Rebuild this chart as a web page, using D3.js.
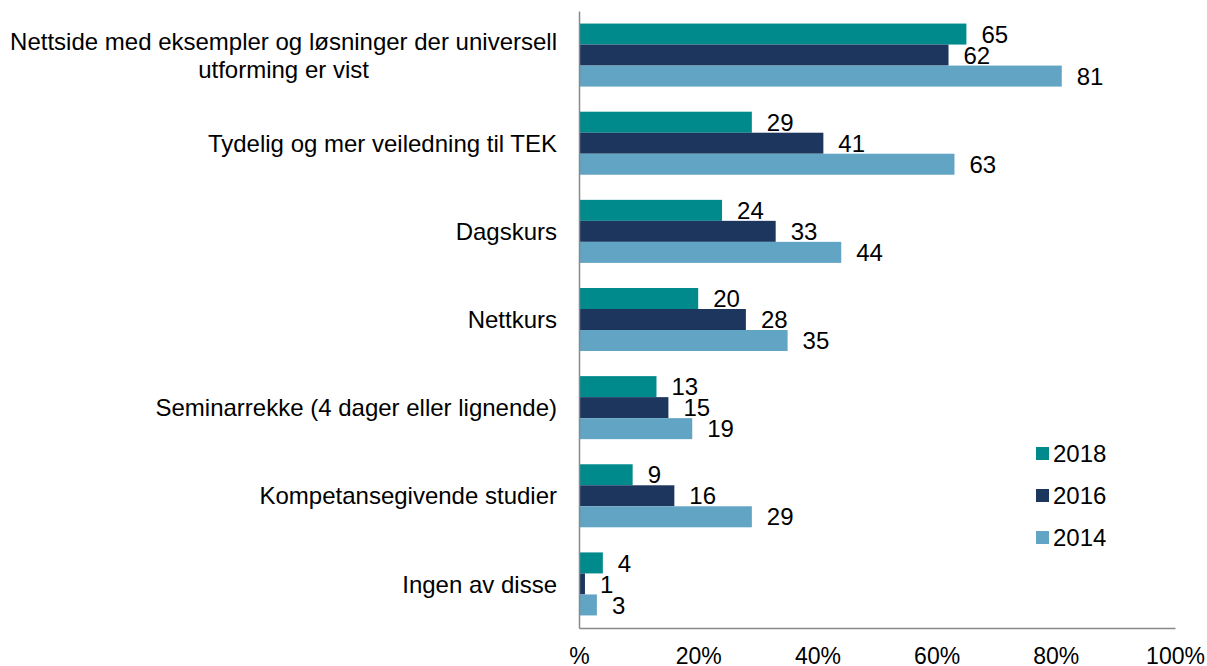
<!DOCTYPE html>
<html><head><meta charset="utf-8">
<script src="https://cdn.jsdelivr.net/npm/d3@7"></script>
<style>body{margin:0;background:#fff}svg{display:block}text{font-family:"Liberation Sans",Arial,sans-serif;fill:#000}</style>
</head><body><svg id="c" width="1207" height="666"></svg>
<script>
const categories = [
  ["Nettside med eksempler og løsninger der universell", "utforming er vist"],
  ["Tydelig og mer veiledning til TEK"],
  ["Dagskurs"],
  ["Nettkurs"],
  ["Seminarrekke (4 dager eller lignende)"],
  ["Kompetansegivende studier"],
  ["Ingen av disse"]
];
const seriesNames = ["2018", "2016", "2014"];
const v2018 = [65, 29, 24, 20, 13, 9, 4];
const v2016 = [62, 41, 33, 28, 15, 16, 1];
const v2014 = [81, 63, 44, 35, 19, 29, 3];
const tickValues = [0, 20, 40, 60, 80, 100];
const tickLabels = ["%", "20%", "40%", "60%", "80%", "100%"];
const colors = ["#008a8c", "#1c365e", "#62a4c3"];

const series = [v2018, v2016, v2014];
const svg = d3.select("#c");
const x0 = 579, x1 = 1175, yTop = 11, yBot = 628;
const FS = 24;
const x = d3.scaleLinear().domain([0, 100]).range([x0, x1]);
const y = d3.scaleBand().domain(d3.range(categories.length)).range([yTop, yBot]).paddingInner(0.285).paddingOuter(0.1425);
const ys = d3.scaleBand().domain(d3.range(series.length)).range([0, y.bandwidth()]);

const g = svg.append("g");
series.forEach((vals, si) => {
  g.selectAll(null).data(vals).enter().append("rect")
    .attr("x", x(0)).attr("y", (d, i) => y(i) + ys(si))
    .attr("width", d => x(d) - x(0)).attr("height", ys.bandwidth())
    .attr("fill", colors[si]);
  g.selectAll(null).data(vals).enter().append("text")
    .attr("x", d => x(d) + 15).attr("y", (d, i) => y(i) + ys(si) + ys.bandwidth() / 2)
    .attr("dy", "0.36em").attr("font-size", FS).text(d => d);
});

// axes
const xAxis = d3.axisBottom(x).tickValues(tickValues).tickFormat((d, i) => tickLabels[i]).tickSize(0).tickPadding(0);
const ax = svg.append("g").attr("transform", `translate(0,${yBot})`).call(xAxis);
ax.select(".domain").attr("stroke", "#898989").attr("stroke-width", 1.5);
ax.selectAll("text").attr("font-size", 23).attr("font-family", "Liberation Sans, Arial, sans-serif")
  .attr("fill", "#000").attr("dy", null).attr("y", 36);

const yAxis = d3.axisLeft(y).tickSize(0).tickFormat("");
const ay = svg.append("g").attr("transform", `translate(${x0},0)`).call(yAxis);
ay.select(".domain").attr("stroke", "#898989").attr("stroke-width", 1.5);

// category labels
categories.forEach((lines, i) => {
  const cy = y(i) + y.bandwidth() / 2;
  const lh = 28;
  const startY = cy - (lines.length - 1) * lh / 2;
  const t = svg.append("text").attr("font-size", FS).attr("text-anchor", "end")
    .attr("x", 557).attr("y", startY).attr("dy", "0.36em").text(lines[0]);
  if (lines.length > 1) {
    const w = t.node().getComputedTextLength();
    for (let k = 1; k < lines.length; k++) {
      svg.append("text").attr("font-size", FS).attr("text-anchor", "middle")
        .attr("x", 557 - w / 2).attr("y", startY + k * lh).attr("dy", "0.36em").text(lines[k]);
    }
  }
});

// legend
const lg = svg.append("g").attr("transform", "translate(1036,447)");
seriesNames.forEach((n, i) => {
  lg.append("rect").attr("x", 0).attr("y", i * 42).attr("width", 13).attr("height", 13).attr("fill", colors[i]);
  lg.append("text").attr("x", 17).attr("y", i * 42 + 6.5).attr("dy", "0.36em").attr("font-size", FS).text(n);
});
</script></body></html>
